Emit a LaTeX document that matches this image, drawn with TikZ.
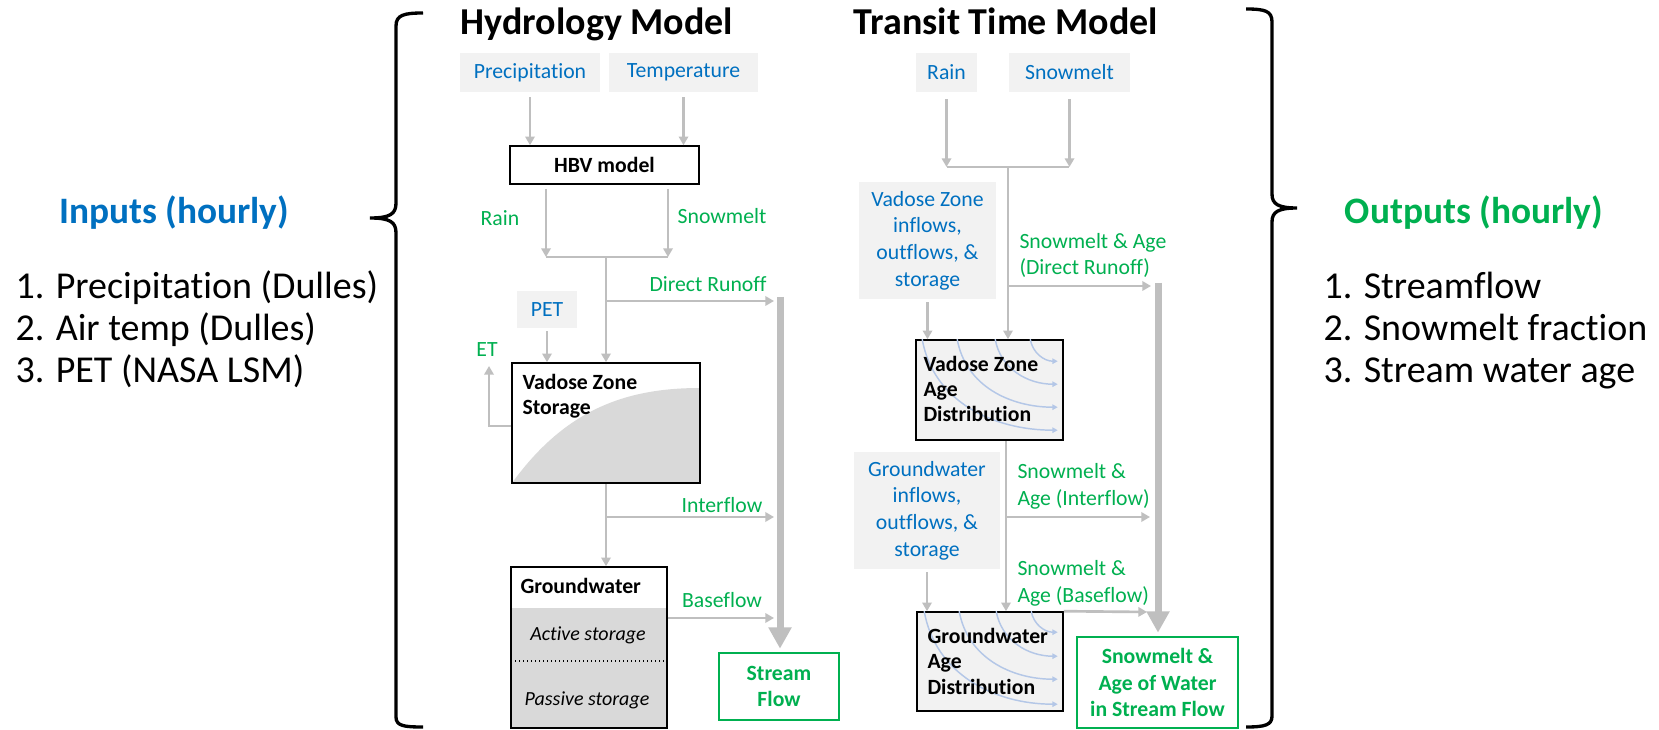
\documentclass[tikz,border=0pt]{standalone}
\usepackage{fontspec}
\setmainfont{Carlito}[Ligatures=NoCommon]
\usetikzlibrary{arrows.meta,calc}

\definecolor{inblue}{RGB}{0,112,192}
\definecolor{outgreen}{RGB}{0,176,80}
\definecolor{arrgray}{RGB}{191,191,191}
\definecolor{boxfill}{RGB}{242,242,242}
\definecolor{storfill}{RGB}{217,217,217}
\definecolor{agecurve}{RGB}{180,199,231}

\tikzset{every picture/.style={line width=0.75pt}}
\tikzset{
  inbox/.style={fill=boxfill, text=inblue, inner sep=0pt, align=center, font=\fontsize{16.3}{20}\selectfont},
  modelbox/.style={draw=black, line width=1.2pt, inner sep=0pt},
  outbox/.style={draw=outgreen, line width=2pt, fill=white, text=outgreen, inner sep=0pt, align=center, font=\bfseries\fontsize{16.3}{19.5}\selectfont},
  boxtext/.style={inner sep=0pt, anchor=base west, align=left, font=\bfseries\fontsize{16.3}{19}\selectfont},
  storetext/.style={inner sep=0pt, anchor=base, font=\itshape\fontsize{15}{18}\selectfont},
  flowlabel/.style={inner sep=0pt, text=outgreen, font=\fontsize{16.3}{20}\selectfont},
  flow/.style={draw=arrgray, line width=2pt, -{Triangle[length=6.5pt,width=7pt]}},
  flowbar/.style={draw=arrgray, line width=2pt},
  collector/.style={draw=arrgray, line width=5.25pt, -{Triangle[length=16pt,width=16.5pt]}},
  agearrow/.style={draw=agecurve, line width=1.1pt, -{Triangle[length=4pt,width=4pt]}},
  brace/.style={draw=black, line width=2.5pt},
  title/.style={inner sep=0pt, anchor=base, font=\bfseries\fontsize{28.5}{34}\selectfont},
  sidehead/.style={inner sep=0pt, anchor=base, font=\bfseries\fontsize{28}{34}\selectfont},
  sideitem/.style={inner sep=0pt, anchor=base west, font=\fontsize{28.5}{34}\selectfont},
}

\begin{document}
\begin{tikzpicture}[x=0.75pt,y=0.75pt,yscale=-1,xscale=1]
\useasboundingbox (0,0) rectangle (1659,730);
\fill[white] (0,0) rectangle (1659,730);

%Braces
\draw[brace] (423,13) .. controls (404,13) and (396,15) .. (396,26) -- (396,203) .. controls (396,214) and (390,218) .. (370,218) .. controls (390,218) and (396,222) .. (396,233) -- (396,717) .. controls (396,726) and (404,727) .. (423,727) ;
\draw[brace] (1246,9) .. controls (1265,9) and (1272,11) .. (1272,22) -- (1272,194) .. controls (1272,204) and (1278,208) .. (1297,208) .. controls (1278,208) and (1272,212) .. (1272,222) -- (1272,716) .. controls (1272,725) and (1265,727) .. (1246,727) ;

% Text Node
\node[sidehead, text=inblue] (inhead) at (174,224) {Inputs (hourly)};
\node[sideitem] (initem1) at (15,299) {1. Precipitation (Dulles)};
\node[sideitem] (initem2) at (15,341) {2. Air temp (Dulles)};
\node[sideitem] (initem3) at (15,383) {3. PET (NASA LSM)};
% Text Node
\node[sidehead, text=outgreen] (outhead) at (1474,224) {Outputs (hourly)};
\node[sideitem] (outitem1) at (1323,299) {1. Streamflow};
\node[sideitem] (outitem2) at (1323,341) {2. Snowmelt fraction};
\node[sideitem] (outitem3) at (1323,383) {3. Stream water age};

% Text Node
\node[title] (hydtitle) at (597,35) {Hydrology Model};
\node[title] (tttitle) at (1006,35) {Transit Time Model};

%Shape: Rectangle
\node[inbox, minimum width=105pt, minimum height=29.25pt] (precip) at (530,72.5) {Precipitation};
\node[inbox, minimum width=111.75pt, minimum height=29.25pt] (temp) at (683.5,72.5) {Temperature};
\node[modelbox, fill=white, minimum width=141.75pt, minimum height=28.5pt, font=\bfseries\fontsize{16.3}{19}\selectfont] (hbv) at (604.5,165) {HBV model};
\node[inbox, minimum width=45pt, minimum height=27.75pt] (pet) at (547,309.5) {PET};
%Shape: Vadose storage
\fill[storfill] (512,483) .. controls (565,410) and (625,388) .. (700,388) -- (700,483) -- cycle ;
\node[modelbox, minimum width=141pt, minimum height=90pt] (vadose) at (606,423) {};
\node[boxtext] (vadosetext) at (522,415) {Vadose Zone\\Storage};
%Shape: Groundwater storage
\fill[storfill] (511,608) rectangle (667,728) ;
\draw[dotted, line width=1pt] (511,661) -- (667,661) ;
\node[modelbox, minimum width=117pt, minimum height=120.75pt] (gw) at (589,647.5) {};
\node[boxtext] (gwtext) at (520,593) {Groundwater};
\node[storetext] (active) at (588,640) {Active storage};
\node[storetext] (passive) at (587,705) {Passive storage};
\node[outbox, minimum width=90pt, minimum height=50.25pt] (streamflow) at (779,686.5) {Stream\\Flow};

%Coordinates
\coordinate (rainend) at (546,257);
\coordinate (snowend) at (668,257);
\coordinate (hmerge) at (606,257);
\coordinate (drsplit) at (606,301);
\coordinate (drend) at (774,301);
\coordinate (ifsplit) at (606,517);
\coordinate (ifend) at (774,517);
\coordinate (bfend) at (774,618);
\coordinate (etcorner) at (489,426);
\coordinate (ettip) at (489,366);
\coordinate (hcolltop) at (780,297);

%Straight Lines
\draw[flow, shorten <=3.75pt] (precip.south) -- (precip.south |- hbv.north) ;
\draw[flow, shorten <=3.75pt] (temp.south) -- (temp.south |- hbv.north) ;
\draw[flow, shorten <=3pt] (hbv.south -| rainend) -- (rainend) ;
\draw[flow, shorten <=3pt] (hbv.south -| snowend) -- (snowend) ;
\draw[flowbar] (rainend) -- (snowend) ;
\draw[flow] (hmerge) -- (vadose.north) ;
\draw[flow] (drsplit) -- (drend) ;
\draw[flow, shorten <=2pt] (pet.south) -- (pet.south |- vadose.north) ;
\draw[flow] (vadose.west |- etcorner) -- (etcorner) -- (ettip) ;
\draw[flow] (vadose.south) -- (vadose.south |- gw.north) ;
\draw[flow] (ifsplit) -- (ifend) ;
\draw[flow] (gw.east |- bfend) -- (bfend) ;
\draw[collector, shorten >=2.25pt] (hcolltop) -- (hcolltop |- streamflow.north) ;

% Text Node
\node[flowlabel, anchor=base] (rainlbl) at (500,226) {Rain};
\node[flowlabel, anchor=base] (snowlbl) at (722,224) {Snowmelt};
\node[flowlabel, anchor=base] (drlbl) at (708,292) {Direct Runoff};
\node[flowlabel, anchor=base] (etlbl) at (487,357) {ET};
\node[flowlabel, anchor=base] (iflbl) at (722,512) {Interflow};
\node[flowlabel, anchor=base] (bflbl) at (722,607) {Baseflow};

%Shape: Rectangle
\node[inbox, minimum width=45.75pt, minimum height=29.25pt] (train) at (946.5,72.5) {Rain};
\node[inbox, minimum width=90.75pt, minimum height=29.25pt] (tsnow) at (1069.5,72.5) {Snowmelt};
\node[inbox, minimum width=102.75pt, minimum height=87.75pt] (vadin) at (927.5,240.5) {Vadose Zone\\inflows,\\outflows, \&\\storage};
\node[inbox, minimum width=109.5pt, minimum height=87.75pt] (gwin) at (927,510.5) {Groundwater\\inflows,\\outflows, \&\\storage};
%Shape: Age distributions
\node[modelbox, fill=boxfill, minimum width=110.25pt, minimum height=75pt] (vadage) at (989.5,390) {};
\draw[agearrow] ($(vadage.north west)+(7,0)$) to[out=80,in=180] ($(vadage.north east)+(-6,91)$) ;
\draw[agearrow] ($(vadage.north west)+(42,0)$) to[out=80,in=180] ($(vadage.north east)+(-6,68)$) ;
\draw[agearrow] ($(vadage.north west)+(80,0)$) to[out=80,in=180] ($(vadage.north east)+(-6,45)$) ;
\draw[agearrow] ($(vadage.north west)+(115,0)$) to[out=80,in=180] ($(vadage.north east)+(-6,22)$) ;
\node[boxtext] (vadagetext) at (923,422) {Vadose Zone\\Age\\Distribution};
\node[modelbox, fill=boxfill, minimum width=109.5pt, minimum height=74.25pt] (gwage) at (990,661.5) {};
\draw[agearrow] ($(gwage.north west)+(8,0)$) to[out=80,in=180] ($(gwage.north east)+(-6,93)$) ;
\draw[agearrow] ($(gwage.north west)+(43,0)$) to[out=80,in=180] ($(gwage.north east)+(-6,68)$) ;
\draw[agearrow] ($(gwage.north west)+(80,0)$) to[out=80,in=180] ($(gwage.north east)+(-6,45)$) ;
\draw[agearrow] ($(gwage.north west)+(115,0)$) to[out=80,in=180] ($(gwage.north east)+(-6,21)$) ;
\node[boxtext] (gwagetext) at (927,694) {Groundwater\\Age\\Distribution};
\node[outbox, minimum width=120.75pt, minimum height=68.25pt, font=\bfseries\fontsize{16.3}{20}\selectfont] (snowage) at (1157.5,682.5) {Snowmelt \&\\Age of Water\\in Stream Flow};

%Coordinates
\coordinate (trainend) at (947,167);
\coordinate (tsnowend) at (1069,167);
\coordinate (tmerge) at (1008,167);
\coordinate (tdrsplit) at (1008,286);
\coordinate (tdrend) at (1151,286);
\coordinate (tifsplit) at (1006,517);
\coordinate (tifend) at (1150,517);
\coordinate (tbfend) at (1147,612);
\coordinate (tcolltop) at (1158,283);

%Straight Lines
\draw[flow, shorten <=5pt] (train.south) -- (train.south |- trainend) ;
\draw[flow, shorten <=5pt] (tsnow.south) -- (tsnow.south |- tsnowend) ;
\draw[flowbar] (trainend) -- (tsnowend) ;
\draw[flow] (tmerge) -- (tmerge |- vadage.north) ;
\draw[flow, shorten <=2pt] (vadin.south) -- (vadin.south |- vadage.north) ;
\draw[flow] (tdrsplit) -- (tdrend) ;
\draw[flow] (tifsplit |- vadage.south) -- (tifsplit |- gwage.north) ;
\draw[flow] (tifsplit) -- (tifend) ;
\draw[flow, shorten <=2pt] (gwin.south) -- (gwin.south |- gwage.north) ;
\draw[flow] (gwage.north east) -- (tbfend) ;
\draw[collector, shorten >=2.25pt] (tcolltop) -- (tcolltop |- snowage.north) ;

% Text Node
\node[flowlabel, anchor=base west, align=left] (tdrlbl) at (1019,275) {Snowmelt \& Age\\(Direct Runoff)};
\node[flowlabel, anchor=base west, align=left] (tiflbl) at (1017,505) {Snowmelt \&\\Age (Interflow)};
\node[flowlabel, anchor=base west, align=left] (tbflbl) at (1017,602) {Snowmelt \&\\Age (Baseflow)};
\end{tikzpicture}
\end{document}
